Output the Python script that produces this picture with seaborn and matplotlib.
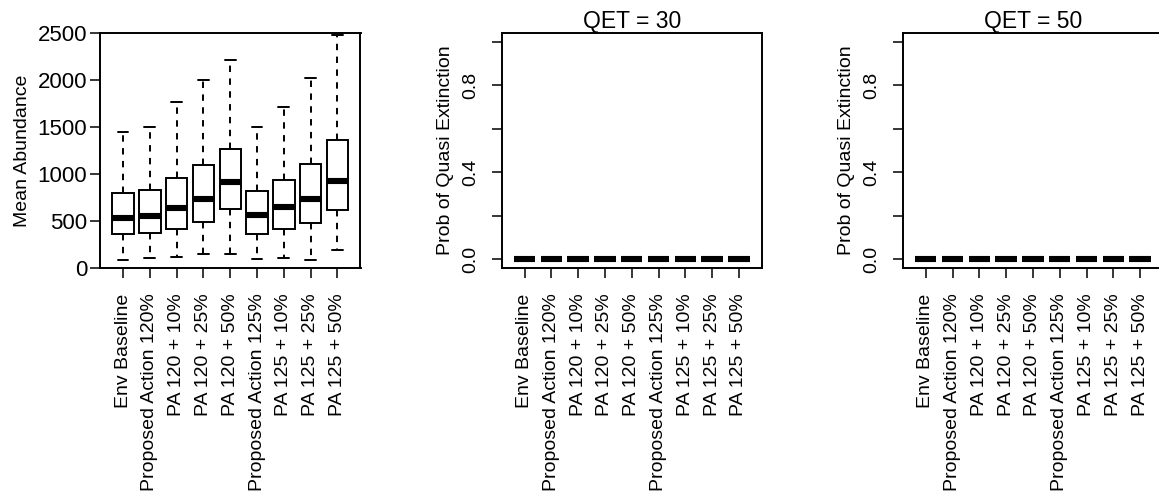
import matplotlib
matplotlib.use("Agg")
import matplotlib.pyplot as plt
import pandas as pd
import seaborn as sns

# Scenario names (x categories, shared by all three panels)
scenarios = [
    "Env Baseline", "Proposed Action 120%", "PA 120 + 10%", "PA 120 + 25%",
    "PA 120 + 50%", "Proposed Action 125%", "PA 125 + 10%", "PA 125 + 25%",
    "PA 125 + 50%",
]

# Mean abundance summary per scenario: whisker ends, quartiles, median
abund_min = [82, 103, 121, 149, 149, 99, 106, 89, 188]
abund_q1 = [365, 372, 415, 486, 628, 365, 418, 475, 613]
abund_median = [532, 550, 638, 734, 911, 564, 645, 734, 922]
abund_q3 = [798, 826, 954, 1096, 1266, 816, 936, 1103, 1358]
abund_max = [1447, 1496, 1762, 2004, 2213, 1496, 1713, 2018, 2482]

# Probability of quasi extinction per scenario
prob_qet30 = [0, 0, 0, 0, 0, 0, 0, 0, 0]
prob_qet50 = [0, 0, 0, 0, 0, 0, 0, 0, 0]

abund_ticks = [0, 500, 1000, 1500, 2000, 2500]
prob_ticks = [0.0, 0.2, 0.4, 0.6, 0.8, 1.0]
prob_labels = ["0.0", "", "0.4", "", "0.8", ""]

sns.set_style("white")
plt.rcParams["font.family"] = ["Liberation Sans", "DejaVu Sans"]
plt.rcParams["text.color"] = "black"
plt.rcParams["axes.labelcolor"] = "black"

rows = []
for i, s in enumerate(scenarios):
    for v in (abund_min[i], abund_q1[i], abund_median[i], abund_q3[i], abund_max[i]):
        rows.append({"scenario": s, "value": v})
abund_df = pd.DataFrame(rows)
q30_df = pd.DataFrame({"scenario": scenarios, "value": prob_qet30})
q50_df = pd.DataFrame({"scenario": scenarios, "value": prob_qet50})

W, H = 1159, 495
fig = plt.figure(figsize=(W / 100, H / 100), dpi=100)
fig.patch.set_facecolor("white")

ax_w, ax_h = 260.5 / W, 235 / H
bottom = (H - 268) / H
ax1 = fig.add_axes([100 / W, bottom, ax_w, ax_h])
ax2 = fig.add_axes([501.5 / W, bottom, ax_w, ax_h])
ax3 = fig.add_axes([902.7 / W, bottom, ax_w, ax_h])

LW = 1.4
box_kws = dict(
    x="scenario", y="value", order=scenarios,
    color="white", saturation=1, linecolor="black", linewidth=LW,
    width=0.8, whis=(0, 100), showfliers=False,
    medianprops=dict(linewidth=4.4, color="black", solid_capstyle="butt"),
    whiskerprops=dict(linestyle=(0, (3.3, 3.3)), linewidth=LW, color="black"),
    capprops=dict(linewidth=LW, color="black"),
)

sns.boxplot(data=abund_df, ax=ax1, **box_kws)
sns.boxplot(data=q30_df, ax=ax2, **box_kws)
sns.boxplot(data=q50_df, ax=ax3, **box_kws)

FS_ROT = 14      # rotated text (category labels, axis titles)
FS_HORIZ = 16    # horizontal numeric labels
FS_TITLE = 16.5

for ax in (ax1, ax2, ax3):
    ax.set_xlim(-0.86, len(scenarios) - 1 + 0.86)
    ax.set_xlabel("")
    for sp in ax.spines.values():
        sp.set_visible(True)
        sp.set_color("black")
        sp.set_linewidth(LW)
    ax.tick_params(axis="both", which="major", direction="out", length=7.2,
                   width=1.1, color="black", labelcolor="black",
                   bottom=True, left=True, top=False, right=False)
    ax.tick_params(axis="x", pad=11, labelrotation=90, labelsize=FS_ROT)
    ax.grid(False)

# Abundance panel
ax1.set_ylim(0, 2500)
ax1.set_yticks(abund_ticks)
ax1.set_yticklabels([str(t) for t in abund_ticks])
ax1.tick_params(axis="y", pad=2, labelsize=FS_HORIZ)
ax1.set_ylabel("Mean Abundance", fontsize=FS_ROT)
ax1.yaxis.set_label_coords(-0.263, 0.5)

# Quasi extinction panels
for ax, title in ((ax2, "QET = 30"), (ax3, "QET = 50")):
    ax.set_ylim(-0.04, 1.04)
    ax.set_yticks(prob_ticks)
    ax.set_yticklabels(prob_labels)
    ax.tick_params(axis="y", pad=9, labelsize=FS_ROT)
    for lab in ax.get_yticklabels():
        lab.set_rotation(90)
        lab.set_va("center")
    ax.set_ylabel("Prob of Quasi Extinction", fontsize=FS_ROT)
    ax.yaxis.set_label_coords(-0.184, 0.5)
    ax.set_title(title, fontsize=FS_TITLE, pad=3.5, color="black")

fig.savefig("out.png", dpi=100, facecolor="white")
